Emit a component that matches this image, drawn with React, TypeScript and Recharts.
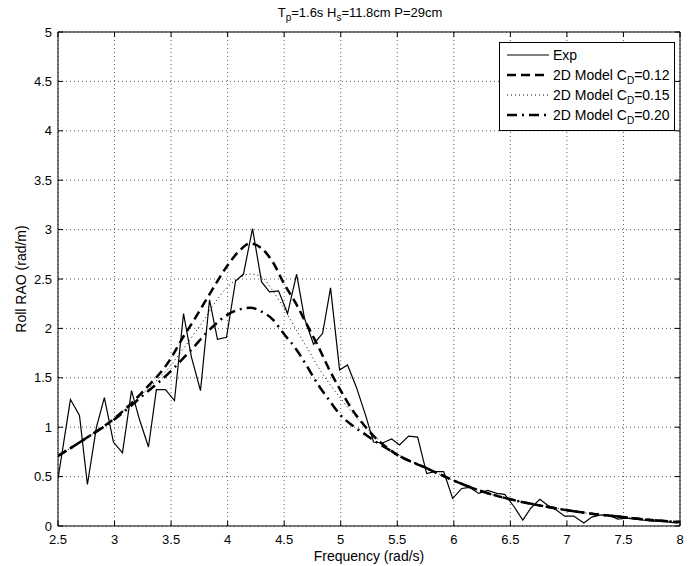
import { CartesianGrid, Legend, Line, LineChart, XAxis, YAxis } from "recharts";

const expFreq = [
  2.5, 2.61, 2.69, 2.76, 2.84, 2.91, 2.99, 3.07, 3.15, 3.22, 3.3, 3.37, 3.45, 3.53, 3.61, 3.68,
  3.76, 3.84, 3.91, 3.99, 4.07, 4.14, 4.22, 4.3, 4.37, 4.45, 4.53, 4.61, 4.68, 4.76, 4.84, 4.91,
  4.99, 5.06, 5.14, 5.22, 5.29, 5.37, 5.45, 5.52, 5.6, 5.68, 5.76, 5.83, 5.91, 5.99, 6.07, 6.14,
  6.22, 6.3, 6.38, 6.45, 6.53, 6.61, 6.68, 6.76, 6.83, 6.91, 6.98, 7.06, 7.15, 7.22, 7.29, 7.37,
  7.45, 7.53, 7.6, 7.68, 7.75, 7.83, 7.91, 7.98,
];
const expRao = [
  0.48, 1.28, 1.12, 0.42, 1.0, 1.3, 0.85, 0.74, 1.37, 1.08, 0.8, 1.38, 1.38, 1.27, 2.15, 1.71,
  1.37, 2.29, 1.89, 1.91, 2.48, 2.55, 3.01, 2.47, 2.37, 2.38, 2.15, 2.55, 2.1, 1.84, 1.95, 2.41,
  1.58, 1.63, 1.4, 1.12, 0.85, 0.84, 0.88, 0.82, 0.91, 0.9, 0.53, 0.55, 0.55, 0.28, 0.38, 0.39,
  0.33, 0.36, 0.33, 0.32, 0.2, 0.06, 0.18, 0.27, 0.21, 0.16, 0.1, 0.1, 0.03, 0.09, 0.11, 0.11,
  0.07, 0.08, 0.07, 0.06, 0.05, 0.05, 0.04, 0.03,
];

// 2D model curves
const modelFreq = [
  2.5, 2.75, 3.0, 3.25, 3.5, 3.6, 3.7, 3.8, 3.9, 4.0, 4.1, 4.2, 4.3, 4.4, 4.5, 4.6, 4.7, 4.8,
  4.9, 5.0, 5.1, 5.2, 5.3, 5.4, 5.5, 5.75, 6.0, 6.25, 6.5, 6.75, 7.0, 7.25, 7.5, 7.75, 8.0,
];
const cd012 = [
  0.71, 0.89, 1.09, 1.36, 1.7, 1.9, 2.08, 2.27, 2.46, 2.64, 2.78, 2.86, 2.81, 2.67, 2.45, 2.26,
  2.04, 1.82, 1.58, 1.37, 1.18, 1.03, 0.9, 0.8, 0.72, 0.59, 0.46, 0.35, 0.27, 0.21, 0.16, 0.12,
  0.09, 0.06, 0.04,
];
const cd015 = [
  0.71, 0.89, 1.09, 1.34, 1.63, 1.78, 1.94, 2.1, 2.28, 2.42, 2.51, 2.55, 2.52, 2.38, 2.2, 2.0,
  1.81, 1.61, 1.44, 1.29, 1.15, 1.02, 0.91, 0.81, 0.73, 0.59, 0.46, 0.35, 0.27, 0.21, 0.16, 0.12,
  0.09, 0.06, 0.04,
];
const cd020 = [
  0.71, 0.89, 1.08, 1.32, 1.57, 1.69, 1.81, 1.94, 2.05, 2.14, 2.19, 2.21, 2.17, 2.09, 1.94, 1.8,
  1.62, 1.43, 1.27, 1.12, 1.02, 0.94, 0.86, 0.79, 0.72, 0.59, 0.46, 0.35, 0.27, 0.21, 0.16, 0.12,
  0.09, 0.06, 0.04,
];

const xTicks = [2.5, 3, 3.5, 4, 4.5, 5, 5.5, 6, 6.5, 7, 7.5, 8];
const yTicks = [0, 0.5, 1, 1.5, 2, 2.5, 3, 3.5, 4, 4.5, 5];

const expData = expFreq.map((x, i) => ({ x, y: expRao[i] }));
const modelData = modelFreq.map((x, i) => ({ x, c12: cd012[i], c15: cd015[i], c20: cd020[i] }));

const FONT = '"Liberation Sans", Arial, sans-serif';

const legendRows = [
  { label: "Exp", sub: "", value: "", width: 1.2, dash: undefined as string | undefined },
  { label: "2D Model C", sub: "D", value: "=0.12", width: 2.5, dash: "9 5" },
  { label: "2D Model C", sub: "D", value: "=0.15", width: 1, dash: "1 3" },
  { label: "2D Model C", sub: "D", value: "=0.20", width: 2.5, dash: "10 5 2 5" },
];

const subStyle = { fontSize: 10, verticalAlign: -4, lineHeight: 0 };

function LegendBox() {
  return (
    <div
      style={{
        position: "relative",
        width: 176,
        height: 89,
        boxSizing: "border-box",
        border: "1px solid #000",
        background: "#fff",
        fontFamily: FONT,
        fontSize: 14,
        color: "#000",
      }}
    >
      {legendRows.map((row, i) => (
        <div
          key={i}
          style={{ position: "absolute", left: 7, top: 3 + i * 20, height: 18, display: "flex", alignItems: "center" }}
        >
          <svg width={42} height={10} style={{ marginRight: 4 }}>
            <line x1={0} x2={42} y1={5} y2={5} stroke="#000" strokeWidth={row.width} strokeDasharray={row.dash} />
          </svg>
          <span style={{ lineHeight: "18px", whiteSpace: "nowrap" }}>
            {row.label}
            {row.sub && <sub style={subStyle}>{row.sub}</sub>}
            {row.value}
          </span>
        </div>
      ))}
    </div>
  );
}

export default function App() {
  return (
    <div style={{ position: "absolute", left: 0, top: 0, width: 699, height: 566, background: "#fff" }}>
      <div
        style={{
          position: "absolute",
          left: 0,
          width: 720,
          top: 5,
          textAlign: "center",
          fontFamily: FONT,
          fontSize: 13,
          color: "#000",
          zIndex: 2,
        }}
      >
        T<sub style={subStyle}>p</sub>=1.6s H<sub style={subStyle}>s</sub>=11.8cm P=29cm
      </div>
      <LineChart
        width={699}
        height={566}
        data={modelData}
        margin={{ top: 32, right: 19, bottom: 0, left: 0 }}
        style={{ fontFamily: FONT }}
      >
        <CartesianGrid stroke="#333" strokeDasharray="1 3" strokeWidth={0.8} />
        <XAxis
          dataKey="x"
          type="number"
          domain={[2.5, 8]}
          ticks={xTicks}
          allowDataOverflow
          height={40}
          tickSize={-5}
          tickMargin={14}
          stroke="#000"
          tick={{ fill: "#000", fontSize: 13 }}
          label={{ value: "Frequency (rad/s)", position: "insideBottom", offset: 5, fill: "#000", fontSize: 14 }}
        />
        <XAxis
          xAxisId="top"
          dataKey="x"
          orientation="top"
          mirror
          type="number"
          domain={[2.5, 8]}
          ticks={xTicks}
          allowDataOverflow
          tickSize={5}
          stroke="#000"
          tickFormatter={() => ""}
        />
        <YAxis
          type="number"
          domain={[0, 5]}
          ticks={yTicks}
          allowDataOverflow
          width={58}
          tickSize={-5}
          tickMargin={11}
          stroke="#000"
          tick={{ fill: "#000", fontSize: 13 }}
          label={{ value: "Roll RAO (rad/m)", angle: -90, position: "center", dx: -8, fill: "#000", fontSize: 14 }}
        />
        <YAxis
          yAxisId="right"
          orientation="right"
          mirror
          type="number"
          domain={[0, 5]}
          ticks={yTicks}
          allowDataOverflow
          tickSize={5}
          stroke="#000"
          tickFormatter={() => ""}
        />
        <Legend
          layout="horizontal"
          verticalAlign="middle"
          align="center"
          content={() => <LegendBox />}
          wrapperStyle={{ left: 499, top: 42, width: 176, height: 89 }}
        />
        {/* invisible copy bound to the top/right axes so their inward ticks get drawn */}
        <Line
          xAxisId="top"
          yAxisId="right"
          dataKey="c12"
          stroke="none"
          dot={false}
          activeDot={false}
          legendType="none"
          isAnimationActive={false}
        />
        <Line
          data={expData}
          dataKey="y"
          name="Exp"
          type="linear"
          stroke="#000"
          strokeWidth={1.2}
          dot={false}
          isAnimationActive={false}
        />
        <Line
          dataKey="c12"
          name="2D Model CD=0.12"
          type="monotone"
          stroke="#000"
          strokeWidth={2.5}
          strokeDasharray="9 5"
          dot={false}
          isAnimationActive={false}
        />
        <Line
          dataKey="c15"
          name="2D Model CD=0.15"
          type="monotone"
          stroke="#000"
          strokeWidth={1}
          strokeDasharray="1 3"
          dot={false}
          isAnimationActive={false}
        />
        <Line
          dataKey="c20"
          name="2D Model CD=0.20"
          type="monotone"
          stroke="#000"
          strokeWidth={2.5}
          strokeDasharray="10 5 2 5"
          dot={false}
          isAnimationActive={false}
        />
      </LineChart>
    </div>
  );
}
